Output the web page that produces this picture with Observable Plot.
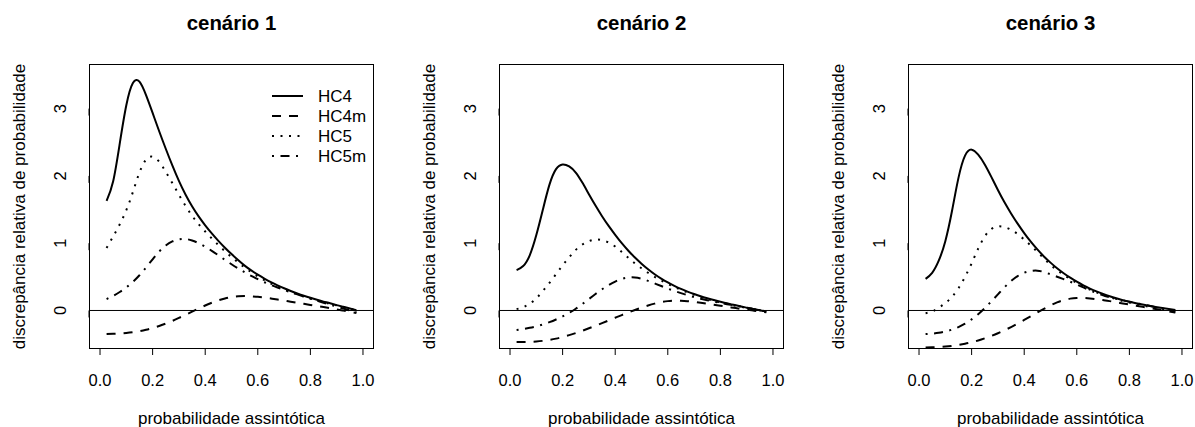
<!DOCTYPE html>
<html><head><meta charset="utf-8">
<script src="https://cdn.jsdelivr.net/npm/d3@7"></script>
<script src="https://cdn.jsdelivr.net/npm/@observablehq/plot@0.6"></script>
<style>
html,body{margin:0;padding:0;background:#fff;overflow:hidden}
#root{position:relative;width:1195px;height:427px;font-family:"Liberation Sans",Arial,Helvetica,sans-serif}
.panel{position:absolute;top:0}
</style></head><body><div id="root"></div>
<script>
// asymptotic probability grid
const grid = [0.025,0.05,0.075,0.1,0.125,0.15,0.175,0.2,0.225,0.25,0.275,0.3,0.325,0.35,0.375,0.4,0.425,0.45,0.475,0.5,
              0.525,0.55,0.575,0.6,0.625,0.65,0.675,0.7,0.725,0.75,0.775,0.8,0.825,0.85,0.875,0.9,0.925,0.95,0.975];

const titles = ["cenário 1","cenário 2","cenário 3"];
const seriesNames = ["HC4","HC4m","HC5","HC5m"];
const xTicks = [0,0.2,0.4,0.6,0.8,1.0];
const yTicks = [0,1,2,3];
const xLabel = "probabilidade assintótica";
const yLabel = "discrepância relativa de probabilidade";

// cenário 1
const c1_HC4  = [1.63,1.92,2.48,3.05,3.38,3.4,3.2,2.935,2.663,2.403,2.155,1.925,1.723,1.548,1.398,1.265,1.145,1.035,0.933,0.838,
                 0.749,0.666,0.595,0.532,0.475,0.422,0.374,0.33,0.29,0.253,0.219,0.188,0.159,0.132,0.107,0.08,0.055,0.03,0.005];
const c1_HC4m = [-0.35,-0.347,-0.342,-0.334,-0.323,-0.308,-0.287,-0.261,-0.23,-0.195,-0.155,-0.111,-0.065,-0.018,0.029,0.074,0.115,0.15,0.179,0.2,
                 0.211,0.214,0.211,0.203,0.192,0.178,0.163,0.147,0.131,0.115,0.099,0.083,0.067,0.051,0.034,0.016,-0.002,-0.02,-0.038];
const c1_HC5  = [0.93,1.1,1.28,1.49,1.76,2.05,2.24,2.285,2.21,2.06,1.893,1.72,1.555,1.408,1.283,1.173,1.07,0.973,0.88,0.794,
                 0.714,0.639,0.57,0.505,0.45,0.4,0.355,0.313,0.275,0.24,0.207,0.177,0.149,0.123,0.099,0.076,0.052,0.028,0.003];
const c1_HC5m = [0.17,0.218,0.275,0.343,0.425,0.523,0.638,0.76,0.875,0.966,1.026,1.056,1.062,1.04,1.0,0.947,0.886,0.82,0.752,0.687,
                 0.625,0.567,0.514,0.465,0.42,0.379,0.341,0.305,0.272,0.241,0.208,0.177,0.146,0.116,0.087,0.058,0.029,0.001,-0.026];

// cenário 2
const c2_HC4  = [0.6,0.66,0.82,1.12,1.5,1.87,2.1,2.17,2.14,2.05,1.9,1.728,1.559,1.401,1.256,1.124,1.0,0.888,0.787,0.696,
                 0.613,0.539,0.474,0.417,0.366,0.32,0.28,0.244,0.211,0.182,0.155,0.13,0.106,0.084,0.062,0.042,0.022,0.002,-0.017];
const c2_HC4m = [-0.47,-0.47,-0.467,-0.461,-0.451,-0.437,-0.418,-0.394,-0.366,-0.335,-0.301,-0.265,-0.227,-0.188,-0.148,-0.108,-0.068,-0.03,0.007,0.042,
                 0.074,0.102,0.124,0.139,0.146,0.145,0.138,0.127,0.114,0.1,0.085,0.07,0.055,0.04,0.025,0.011,-0.002,-0.015,-0.027];
const c2_HC5  = [0.02,0.05,0.1,0.18,0.29,0.41,0.54,0.67,0.79,0.9,0.98,1.03,1.055,1.045,1.01,0.95,0.87,0.783,0.7,0.627,
                 0.56,0.5,0.445,0.395,0.349,0.306,0.268,0.232,0.2,0.17,0.143,0.119,0.096,0.075,0.056,0.037,0.02,0.003,-0.012];
const c2_HC5m = [-0.29,-0.276,-0.258,-0.236,-0.208,-0.174,-0.134,-0.088,-0.036,0.025,0.095,0.17,0.245,0.315,0.378,0.43,0.468,0.489,0.49,0.472,
                 0.44,0.402,0.363,0.325,0.29,0.258,0.228,0.2,0.175,0.152,0.131,0.112,0.094,0.077,0.06,0.042,0.024,0.005,-0.015];

// cenário 3
const c3_HC4  = [0.47,0.56,0.74,1.03,1.47,1.97,2.3,2.39,2.315,2.17,1.985,1.79,1.607,1.442,1.29,1.15,1.022,0.907,0.803,0.711,
                 0.628,0.554,0.488,0.428,0.374,0.326,0.283,0.245,0.211,0.181,0.154,0.13,0.108,0.088,0.069,0.052,0.036,0.021,0.007];
const c3_HC4m = [-0.55,-0.548,-0.544,-0.537,-0.527,-0.513,-0.495,-0.473,-0.446,-0.414,-0.378,-0.338,-0.294,-0.246,-0.195,-0.141,-0.086,-0.03,0.025,0.076,
                 0.121,0.155,0.176,0.185,0.186,0.179,0.168,0.154,0.139,0.122,0.105,0.088,0.071,0.055,0.038,0.021,0.004,-0.013,-0.031];
const c3_HC5  = [-0.04,-0.015,0.04,0.11,0.2,0.33,0.5,0.7,0.92,1.1,1.21,1.25,1.24,1.2,1.135,1.055,0.965,0.87,0.772,0.68,
                 0.6,0.53,0.467,0.41,0.358,0.311,0.269,0.232,0.198,0.168,0.141,0.117,0.095,0.075,0.056,0.039,0.023,0.007,-0.01];
const c3_HC5m = [-0.35,-0.343,-0.332,-0.313,-0.285,-0.247,-0.196,-0.132,-0.055,0.035,0.135,0.24,0.345,0.437,0.51,0.561,0.587,0.592,0.571,0.538,
                 0.502,0.465,0.427,0.386,0.342,0.299,0.26,0.226,0.197,0.172,0.15,0.13,0.11,0.09,0.07,0.05,0.03,0.008,-0.015];

const panels = [
  {HC4:c1_HC4, HC4m:c1_HC4m, HC5:c1_HC5, HC5m:c1_HC5m},
  {HC4:c2_HC4, HC4m:c2_HC4m, HC5:c2_HC5, HC5m:c2_HC5m},
  {HC4:c3_HC4, HC4m:c3_HC4m, HC5:c3_HC5, HC5m:c3_HC5m}
];

const dashes = {HC4: null, HC4m: "9,8", HC5: "2,6.5", HC5m: "2,6.5,9,6.5"};
const FONT = '"Liberation Sans", Arial, Helvetica, sans-serif';

// layout (svg left offset, width, right margin)
const layout = [
  {left: 0,   width: 398, mr: 25},
  {left: 410, width: 398, mr: 25},
  {left: 819, width: 376, mr: 3}
];

const root = document.getElementById("root");

panels.forEach((pd, p) => {
  const lay = layout[p];
  const marks = [
    Plot.ruleY([0], {stroke: "black", strokeWidth: 1})
  ];
  seriesNames.forEach(s => {
    const rows = grid.map((x, i) => ({x, y: pd[s][i]}));
    marks.push(Plot.line(rows, {
      x: "x", y: "y", curve: "natural",
      stroke: "black", strokeWidth: 2,
      strokeDasharray: dashes[s] || undefined,
      strokeLinecap: "butt"
    }));
  });
  marks.push(
    Plot.frame({stroke: "black", strokeWidth: 1}),
    Plot.axisX(xTicks, {tickSize: 7, tickPadding: 19, tickFormat: d3.format(".1f"), fontSize: 16.5, label: null, stroke: "black"}),
    Plot.axisY(yTicks, {tickSize: 7, tickPadding: 22, tickFormat: d3.format("d"), rotate: -90, textAnchor: "middle", fontSize: 16.5, label: null, stroke: "black"}),
    Plot.text([xLabel], {text: d => d, frameAnchor: "bottom", dy: 70, lineAnchor: "middle", fontSize: 17, fill: "black"}),
    Plot.text([yLabel], {text: d => d, frameAnchor: "left", dx: -70, rotate: -90, textAnchor: "middle", lineAnchor: "middle", fontSize: 17, fill: "black"}),
    Plot.text([titles[p]], {text: d => d, frameAnchor: "top", dy: -41, lineAnchor: "middle", fontSize: 20.4, fontWeight: "bold", fill: "black"})
  );
  const chart = Plot.plot({
    width: lay.width, height: 427,
    marginLeft: 89, marginRight: lay.mr, marginTop: 64, marginBottom: 79,
    x: {domain: [-0.04, 1.04]},
    y: {domain: [-0.565, 3.655]},
    style: {fontFamily: FONT, fontSize: "16.5px", color: "black", background: "transparent", overflow: "visible"},
    marks
  });
  chart.classList.add("panel");
  chart.style.left = lay.left + "px";
  root.appendChild(chart);
});

// legend overlay for panel 1
const leg = d3.select(root).append("svg")
  .attr("class", "panel")
  .style("left", "0px")
  .attr("width", 398).attr("height", 427)
  .style("pointer-events", "none")
  .style("font-family", FONT);
seriesNames.forEach((s, i) => {
  const y = 96 + 20 * i;
  leg.append("line").attr("x1", 272).attr("x2", 303).attr("y1", y).attr("y2", y)
    .attr("stroke", "black").attr("stroke-width", 2)
    .attr("stroke-dasharray", dashes[s]);
  leg.append("text").attr("x", 318).attr("y", y).attr("dy", "0.35em")
    .attr("font-size", 17).attr("fill", "black").text(s);
});
</script>
</body></html>
